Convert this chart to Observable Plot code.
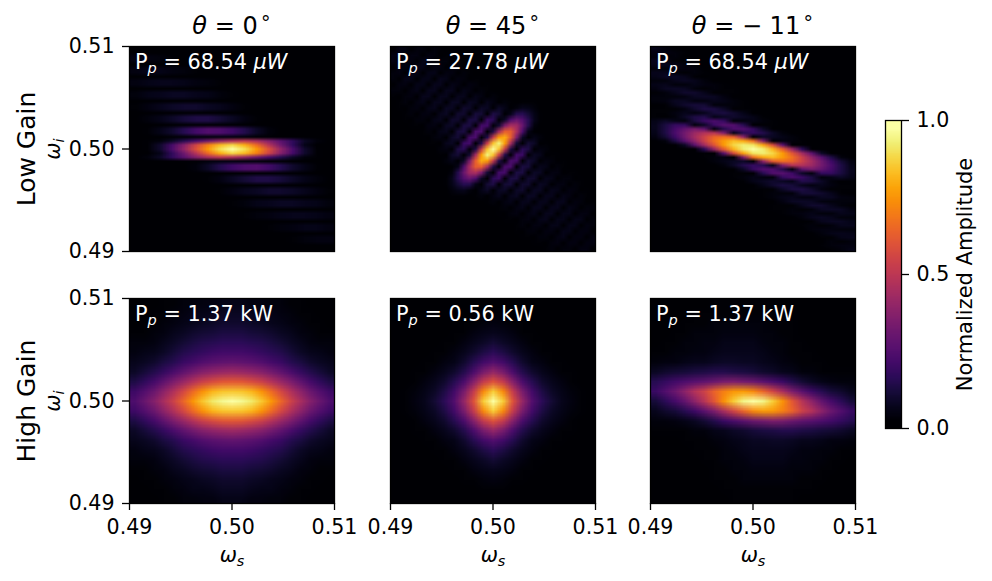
<!DOCTYPE html>
<html>
<head>
<meta charset="utf-8">
<script src="https://cdn.jsdelivr.net/npm/d3@7"></script>
<script src="https://cdn.jsdelivr.net/npm/@observablehq/plot@0.6"></script>
<style>
  html, body { margin: 0; padding: 0; background: #fff; }
  #chart { position: relative; width: 992px; height: 581px; overflow: hidden; font-family: "DejaVu Sans"; }
</style>
</head>
<body>
<div id="chart"></div>
<script>
// Amplitudes in percent. Each row: [first column, values...]; the rest of the row is 0.
const lowGain0Cols = 17;
const lowGain0Rows = [
[],[],[0,3,3,2,1],[0,3,3,2,1],[],[0,3,4,4,3,2,1],[0,3,4,4,3,2,1],[],
[0,3,4,5,5,4,3,2,1],[0,3,4,5,5,4,3,2,1],[],
[0,2,4,5,6,6,5,4,2,1],[0,2,4,5,6,6,5,4,2,1],[],
[0,1,3,5,7,8,8,6,5,3,1],[0,1,3,5,7,8,8,6,5,3,1],[],
[1,2,4,7,10,12,12,9,6,3,1],[1,2,4,7,10,12,12,9,6,3,1],[],
[1,1,4,8,14,20,24,23,19,13,7,2],[1,1,4,8,14,20,24,23,19,13,7,2],
[3,1,1,2,2,3,3,2,1,1],
[1,1,2,7,14,22,31,40,47,50,45,36,26,16,7,2],
[1,1,8,21,37,56,72,84,90,82,67,49,31,16,4],
[1,1,8,22,40,60,78,92,100,92,78,60,40,22,8,1],
[2,4,16,31,49,67,82,90,84,72,56,37,21,8,1],
[1,2,7,16,26,36,45,50,47,40,31,22,14,7,2,1],
[4,1,1,2,3,3,2,2,1,1],
[5,2,7,13,19,23,24,20,14,8,4,1],[5,2,7,13,19,23,24,20,14,8,4,1],[],
[6,1,3,6,9,12,12,10,7,4,2],[6,1,3,6,9,12,12,10,7,4,2],[],
[7,1,3,5,6,8,8,7,5,3,1],[7,1,3,5,6,8,8,7,5,3,1],[],
[8,1,2,4,5,6,6,5,4,2],[8,1,2,4,5,6,6,5,4,2],[],
[9,1,2,3,4,5,5,4,3],[9,1,2,3,4,5,5,4,3],[],
[11,1,2,3,4,4,3],[11,1,2,3,4,4,3],[],
[13,1,2,3,3],[13,1,2,3,3],[],[]
];
const lowGain45Cols = 35;
const lowGain45Rows = [
[0,0,3,3,0,2,2,0,2,1],
[0,3,3,0,3,3,0,3,2,0,1,1],
[0,3,0,3,3,0,4,3,0,2,2,0,1,1],
[0,0,3,3,0,4,4,0,3,3,0,2,2,0,1],
[0,2,3,0,4,4,0,4,4,0,3,3,0,2,1],
[0,2,0,4,4,0,4,4,0,5,4,0,3,2,0,1,1],
[0,0,3,3,0,4,4,0,5,5,0,4,3,0,3,2,0,1],
[0,2,2,0,3,4,0,5,5,0,5,5,0,4,3,0,2,1],
[0,1,0,2,3,0,5,5,0,5,5,0,5,5,0,4,3,0,2,1],
[1,1,2,0,3,4,0,5,5,0,6,6,0,6,5,0,5,3,0,2,1,0,1,1,1],
[1,1,0,2,3,0,4,5,0,6,6,0,8,7,0,7,6,0,7,4,0,2,5,4,2],
[2,1,2,0,3,3,0,5,6,0,8,8,0,10,9,0,12,9,0,4,13,14,9,4,1],
[2,1,0,2,2,0,4,5,0,8,8,0,11,11,0,18,15,0,7,23,29,24,14,5,1],
[3,1,1,0,3,3,0,6,7,0,11,11,0,21,20,0,9,34,46,43,29,13,2],
[5,1,2,0,4,5,0,10,11,0,22,22,0,12,44,64,63,46,23,4],
[5,1,0,2,3,0,7,9,0,21,22,0,13,52,78,82,64,34,7,0,4,2],
[6,1,1,0,5,6,0,18,20,0,13,54,86,96,78,44,9,0,9,7,0,1],
[7,0,2,3,0,12,15,0,12,52,86,100,86,52,12,0,15,12,0,3,2,0],
[8,1,0,7,9,0,9,44,78,96,86,54,13,0,20,18,0,6,5,0,1,1],
[9,2,4,0,7,34,64,82,78,52,13,0,22,21,0,9,7,0,3,2,0,1],
[11,4,23,46,63,64,44,12,0,22,22,0,11,10,0,5,4,0,2,1],
[10,2,13,29,43,46,34,9,0,20,21,0,11,11,0,7,6,0,3,3,0,1,1],
[9,1,5,14,24,29,23,7,0,15,18,0,11,11,0,8,8,0,5,4,0,2,2,0,1],
[9,1,4,9,14,13,4,0,9,12,0,9,10,0,8,8,0,6,5,0,3,3,0,2,1],
[10,2,4,5,2,0,4,7,0,6,7,0,7,8,0,6,6,0,5,4,0,3,2,0,1],
[10,1,1,1,0,1,2,0,3,5,0,5,6,0,6,6,0,5,5,0,4,3,0,2,1],
[16,1,2,0,3,4,0,5,5,0,5,5,0,5,5,0,3,2,0,1],
[18,1,2,0,3,4,0,5,5,0,5,5,0,4,3,0,2,2],
[18,1,0,2,3,0,3,4,0,5,5,0,4,4,0,3,3,0],
[19,1,1,0,2,3,0,4,5,0,4,4,0,4,4,0,2],
[21,1,2,0,3,3,0,4,4,0,4,4,0,3,2],
[21,1,0,2,2,0,3,3,0,4,4,0,3,3,0],
[22,1,1,0,2,2,0,3,4,0,3,3,0,3],
[24,1,1,0,2,3,0,3,3,0,3,3],
[26,1,2,0,2,2,0,3,3,0]
];
const lowGainM11Cols = 21;
const lowGainM11Rows = [
[0,4,2,1],[0,3,3,2,1],[0,2,1,2],[0,5,4,1,1],[0,4,5,4,2],[0,2,2,3,3,2],[0,5,5,2,1,2,1],[0,4,6,6,5,1,0,1],
[0,2,2,5,6,5,2],[0,4,5,2,2,4,3,2,1],[0,3,6,7,6,2,1,2,1,1],[0,1,2,5,8,8,5,1,1,1],[0,2,2,2,3,6,7,6,3],
[0,2,3,6,6,3,3,5,4,2,1],[1,1,5,8,10,9,2,2,2,1],[0,1,1,1,3,8,12,11,7,1,1,1],[0,1,1,3,5,3,5,10,11,8,4],
[0,1,0,2,7,12,13,4,6,8,6,4,1],[0,4,7,4,2,11,18,22,17,2,3,4,2,1],[0,5,11,17,17,2,7,19,25,24,14,0,1,1],
[0,5,12,21,28,33,27,2,13,23,24,17,7],[0,4,12,22,32,42,48,49,35,4,14,17,13,7,2],
[0,3,9,19,31,44,55,65,68,63,39,0,7,6,4,2],[1,2,12,25,39,54,68,78,85,81,68,35,0,3,2,1],
[3,7,26,44,61,78,90,95,93,80,58,26,0,1],
[5,15,41,64,83,95,100,95,83,64,41,15],
[5,1,0,26,58,80,93,95,90,78,61,44,26,7],
[5,1,2,3,0,35,68,81,85,78,68,54,39,25,12,2],
[6,2,4,6,7,0,39,63,68,65,55,44,31,19,9,3],
[7,2,7,13,17,14,4,35,49,48,42,32,22,12,4],
[9,7,17,24,23,13,2,27,33,28,21,12,5],
[8,1,1,0,14,24,25,19,7,2,17,17,11,5],
[8,1,2,4,3,2,17,22,18,11,2,4,7,4],
[9,1,4,6,8,6,4,13,12,7,2,0,1],
[11,4,8,11,10,5,3,5,3,1,1],
[10,1,1,1,7,11,12,8,3,1,1,1],
[11,1,2,2,2,9,10,8,5,1],
[11,1,2,4,5,3,3,6,6,3,2],
[13,3,6,7,6,3,2,2,2],
[12,1,1,1,5,8,8,5,2,1],
[12,1,1,2,1,2,6,7,6,3],
[13,1,2,3,4,2,2,5,4],
[15,2,5,6,5,2,2],
[14,1,0,1,5,6,6,4],
[15,1,2,1,2,5,5],
[16,2,3,3,2,2],
[17,2,4,5,4],
[17,1,1,4,5],
[18,2,1,2],
[17,1,2,3,3],
[18,1,2,4]
];
const highGain0Cols = 21;
const highGain0Rows = [
[0,0,0,0,1,1,2,2,3,3,4,4,4,3,3,2,2,1,1,0,0,0],
[0,0,0,1,1,2,3,4,4,5,6,6,6,5,4,4,3,2,1,1,0,0],
[0,0,1,1,2,3,4,5,6,7,8,8,8,7,6,5,4,3,2,1,1,0],
[0,1,1,2,3,5,6,8,9,10,11,11,11,10,9,8,6,5,3,2,1,1],
[0,2,2,3,5,7,9,11,13,14,15,15,15,14,13,11,9,7,5,3,2,2],
[0,3,4,5,7,10,13,15,17,19,20,20,20,19,17,15,13,10,7,5,4,3],
[0,5,6,8,11,14,18,21,24,26,27,28,27,26,24,21,18,14,11,8,6,5],
[0,7,10,13,17,22,27,32,36,39,41,42,41,39,36,32,27,22,17,13,10,7],
[0,12,16,21,27,34,41,48,54,58,61,62,61,58,54,48,41,34,27,21,16,12],
[0,19,24,30,38,47,57,67,76,83,86,87,86,83,76,67,57,47,38,30,24,19],
[0,23,29,36,45,55,66,77,87,94,98,100,98,94,87,77,66,55,45,36,29,23],
[0,19,24,30,38,47,57,67,76,83,86,87,86,83,76,67,57,47,38,30,24,19],
[0,12,16,21,27,34,41,48,54,58,61,62,61,58,54,48,41,34,27,21,16,12],
[0,7,10,13,17,22,27,32,36,39,41,42,41,39,36,32,27,22,17,13,10,7],
[0,5,6,8,11,14,18,21,24,26,27,28,27,26,24,21,18,14,11,8,6,5],
[0,3,4,5,7,10,13,15,17,19,20,20,20,19,17,15,13,10,7,5,4,3],
[0,2,2,3,5,7,9,11,13,14,15,15,15,14,13,11,9,7,5,3,2,2],
[0,1,1,2,3,5,6,8,9,10,11,11,11,10,9,8,6,5,3,2,1,1],
[0,0,1,1,2,3,4,5,6,7,8,8,8,7,6,5,4,3,2,1,1,0],
[0,0,0,1,1,2,3,4,4,5,6,6,6,5,4,4,3,2,1,1,0,0],
[0,0,0,0,1,1,2,2,3,3,4,4,4,3,3,2,2,1,1,0,0,0]
];
const highGain45Cols = 21;
const highGain45Rows = [
[],
[9,1,1,1],
[7,1,1,2,3,2,1,1],
[6,1,1,3,4,5,4,3,1,1],
[5,1,1,3,5,7,9,7,5,3,1,1],
[4,1,1,3,5,8,12,15,12,8,5,3,1,1],
[3,1,1,3,4,8,14,20,24,20,14,8,4,3,1,1],
[2,1,1,3,5,8,13,22,33,40,33,22,13,8,5,3,1,1],
[2,1,3,5,8,14,22,36,52,60,52,36,22,14,8,5,3,1],
[1,1,2,4,7,12,20,33,52,74,88,74,52,33,20,12,7,4,2,1],
[1,1,3,5,9,15,24,40,60,88,100,88,60,40,24,15,9,5,3,1],
[1,1,2,4,7,12,20,33,52,74,88,74,52,33,20,12,7,4,2,1],
[2,1,3,5,8,14,22,36,52,60,52,36,22,14,8,5,3,1],
[2,1,1,3,5,8,13,22,33,40,33,22,13,8,5,3,1,1],
[3,1,1,3,4,8,14,20,24,20,14,8,4,3,1,1],
[4,1,1,3,5,8,12,15,12,8,5,3,1,1],
[5,1,1,3,5,7,9,7,5,3,1,1],
[6,1,1,3,4,5,4,3,1,1],
[7,1,1,2,3,2,1,1],
[9,1,1,1],
[]
];
const highGainM11Cols = 21;
const highGainM11Rows = [
[0,0,0,0,0,0,0,1,1,1,1,1,1,1,0,0,0,0,0,0,0,0],
[0,0,0,0,0,1,1,1,1,1,1,1,1,1,1,1,0,0,0,0,0,0],
[0,0,0,0,1,1,1,2,2,2,2,2,2,1,1,1,0,0,0,0,0,0],
[0,0,0,1,1,2,2,2,3,3,3,3,2,2,1,1,0,0,0,0,0,0],
[0,0,1,1,2,2,3,3,4,4,4,4,3,2,2,1,1,0,0,0,0,0],
[0,1,1,2,2,3,3,4,5,5,5,5,4,3,2,1,1,1,0,0,0,0],
[0,2,3,3,4,5,5,6,7,7,6,6,5,4,3,2,1,1,1,0,0,0],
[0,6,8,9,10,11,12,13,13,12,11,10,8,7,5,4,2,2,1,1,1,1],
[0,14,17,20,23,25,27,30,33,34,32,30,26,22,18,13,9,6,4,3,2,2],
[0,18,24,30,38,48,55,65,72,77,78,74,66,56,45,34,26,19,14,10,8,5],
[0,10,15,21,28,38,49,62,76,88,97,100,97,88,76,62,49,38,28,21,15,10],
[0,5,8,10,14,19,26,34,45,56,66,74,78,77,72,65,55,48,38,30,24,18],
[0,2,2,3,4,6,9,13,18,22,26,30,32,34,33,30,27,25,23,20,17,14],
[0,1,1,1,1,2,2,4,5,7,8,10,11,12,13,13,12,11,10,9,8,6],
[0,0,0,0,1,1,1,2,3,4,5,6,6,7,7,6,5,5,4,3,3,2],
[0,0,0,0,0,1,1,1,2,3,4,5,5,5,5,4,3,3,2,2,1,1],
[0,0,0,0,0,0,1,1,2,2,3,4,4,4,4,3,3,2,2,1,1,0],
[0,0,0,0,0,0,0,1,1,2,2,3,3,3,3,2,2,2,1,1,0,0],
[0,0,0,0,0,0,0,1,1,1,2,2,2,2,2,2,1,1,1,0,0,0],
[0,0,0,0,0,0,0,0,1,1,1,1,1,1,1,1,1,1,0,0,0,0],
[0,0,0,0,0,0,0,0,0,1,1,1,1,1,1,1,0,0,0,0,0,0]
];
const colorbarLevels = [100,95,90,85,80,75,70,65,60,55,50,45,40,35,30,25,20,15,10,5,0];
const axisTicks = [0.49, 0.50, 0.51];
const colorbarTicks = [0, 50, 100];
const columnTitles = ["*θ* = 0^∘", "*θ* = 45^∘", "*θ* = − 11^∘"];
const rowTitles = ["Low Gain", "High Gain"];
const powerLabels = [
  ["P_p = 68.54 *μW*", "P_p = 27.78 *μW*", "P_p = 68.54 *μW*"],
  ["P_p = 1.37 kW", "P_p = 0.56 kW", "P_p = 1.37 kW"]
];
const xLabel = "*ω*_s";
const yLabel = "*ω*_i";
const colorbarLabel = "Normalized Amplitude";
const grids = [
  [[lowGain0Rows, lowGain0Cols], [lowGain45Rows, lowGain45Cols], [lowGainM11Rows, lowGainM11Cols]],
  [[highGain0Rows, highGain0Cols], [highGain45Rows, highGain45Cols], [highGainM11Rows, highGainM11Cols]]
];

const expand = (rows, cols) => rows.flatMap((r) => {
  const out = new Array(cols).fill(0);
  r.slice(1).forEach((v, i) => { out[r[0] + i] = v; });
  return out;
});

const FONT = "DejaVu Sans";
const color = {type: "linear", scheme: "inferno", domain: [0, 100]};
const frameColor = "#000";
const frameWidth = 1.3;
const tickFont = 20.6;
const panelSize = 205;
const panelX = [129, 389.5, 650];
const panelY = [46, 298];
const chart = document.getElementById("chart");

function enrich(svg) {
  svg.querySelectorAll("text").forEach((t) => {
    const s = t.textContent;
    if (!/[*_^]/.test(s)) return;
    let h = s.replace(/\*(.+?)\*/g, '<tspan font-style="italic">$1</tspan>');
    h = h.replace(/\^∘/, '<tspan dx="2" dy="-0.5em" font-size="0.8em">∘</tspan>');
    h = h.replace(/_(\w)(.*)$/, (m, a, rest) =>
      `<tspan dy="0.3em" font-size="0.7em" font-style="italic">${a}</tspan><tspan dy="-0.21em">${rest}</tspan>`);
    t.innerHTML = h;
  });
}

function panel(row, col) {
  const [rows, cols] = grids[row][col];
  const first = col === 0, bottom = row === 1;
  const marginLeft = first ? panelX[0] : 30;
  const marginRight = 25;
  const marginTop = row === 0 ? panelY[0] : 10;
  const marginBottom = bottom ? 78 : 4;
  const marks = [
    Plot.raster(expand(rows, cols), {
      width: cols, height: rows.length,
      x1: 0.49, x2: 0.51, y1: 0.51, y2: 0.49,
      fill: (d) => d
    }),
    Plot.frame({stroke: frameColor, strokeWidth: frameWidth}),
    Plot.text([powerLabels[row][col]], {
      text: (d) => d, frameAnchor: "top-left", dx: 5.5, dy: 22, lineAnchor: "bottom",
      fill: "white", fontSize: 20.8
    })
  ];
  if (row === 0) marks.push(Plot.text([columnTitles[col]], {
    text: (d) => d, frameAnchor: "top", dy: -13, lineAnchor: "bottom", textAnchor: "middle", fontSize: 24, fill: "#000"
  }));
  if (first) marks.push(
    Plot.axisY({ticks: axisTicks, tickFormat: ".2f", tickSize: 7, tickPadding: 8, fontSize: tickFont, label: null, strokeWidth: 1.3}),
    Plot.text([yLabel], {text: (d) => d, frameAnchor: "left", dx: -76, rotate: -90, textAnchor: "middle", fontSize: tickFont, fill: "#000"}),
    Plot.text([rowTitles[row]], {text: (d) => d, frameAnchor: "left", dx: -103, rotate: -90, textAnchor: "middle", fontSize: 25, fill: "#000"})
  );
  if (bottom) marks.push(
    Plot.axisX({ticks: axisTicks, tickFormat: ".2f", tickSize: 7, tickPadding: 9, fontSize: tickFont, label: null, strokeWidth: 1.3}),
    Plot.text([xLabel], {text: (d) => d, frameAnchor: "bottom", dy: 58, lineAnchor: "bottom", textAnchor: "middle", fontSize: tickFont, fill: "#000"})
  );
  const svg = Plot.plot({
    width: marginLeft + panelSize + marginRight,
    height: marginTop + panelSize + marginBottom,
    marginLeft, marginRight, marginTop, marginBottom,
    x: {domain: [0.49, 0.51], axis: null},
    y: {domain: [0.49, 0.51], axis: null},
    color,
    style: {
      position: "absolute",
      left: `${panelX[col] - marginLeft}px`,
      top: `${panelY[row] - marginTop}px`,
      background: "transparent", color: "#000", fontFamily: FONT, overflow: "visible", maxWidth: "none"
    },
    marks
  });
  enrich(svg);
  chart.appendChild(svg);
}

for (let r = 0; r < 2; ++r) for (let c = 0; c < 3; ++c) panel(r, c);

chart.appendChild(Plot.plot({
  width: 122, height: 348,
  marginLeft: 15, marginRight: 91, marginTop: 20, marginBottom: 20,
  x: {domain: [0, 1], axis: null},
  y: {domain: [0, 100], axis: null},
  color,
  style: {position: "absolute", left: "870px", top: "100px", background: "transparent", color: "#000", fontFamily: FONT, overflow: "visible", maxWidth: "none"},
  marks: [
    Plot.raster(colorbarLevels, {width: 1, height: colorbarLevels.length, x1: 0, x2: 1, y1: 100, y2: 0, fill: (d) => d}),
    Plot.frame({stroke: frameColor, strokeWidth: frameWidth}),
    Plot.axisY({anchor: "right", ticks: colorbarTicks, tickFormat: (d) => (d / 100).toFixed(1), tickSize: 7, tickPadding: 8, fontSize: tickFont, label: null, strokeWidth: 1.3}),
    Plot.text([colorbarLabel], {text: (d) => d, frameAnchor: "right", dx: 64, rotate: -90, textAnchor: "middle", fontSize: 21, fill: "#000"})
  ]
}));
</script>
</body>
</html>
